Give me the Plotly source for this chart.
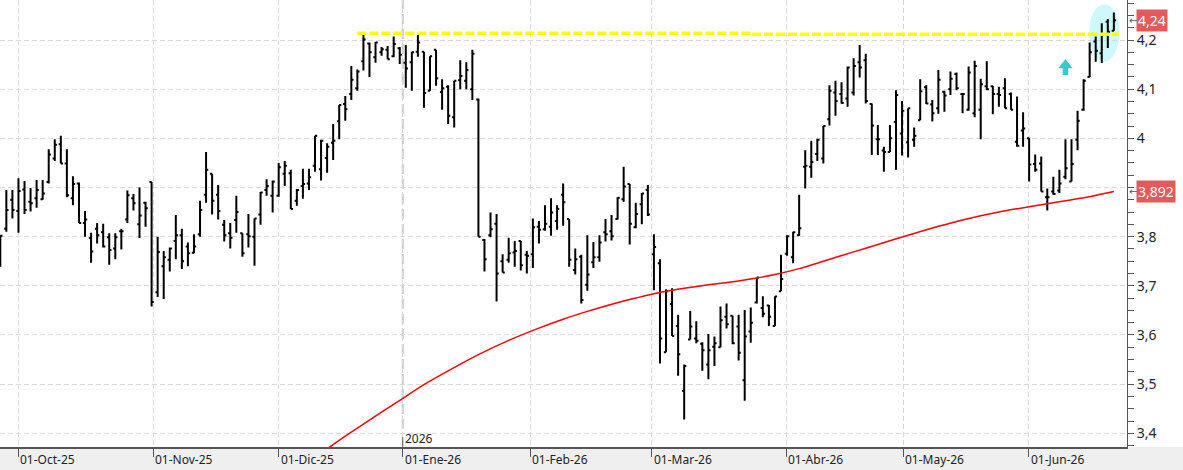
import plotly.graph_objects as go

# ---------------- data ----------------
bar_idx = list(range(185))

opens = [3.759, 3.816, 3.875, 3.852, 3.896, 3.871, 3.878, 3.876, 3.911, 3.959,
         3.988, 3.949, 3.878, 3.908, 3.828, 3.797, 3.816, 3.809, 3.799, 3.776,
         3.811, 3.835, 3.878, 3.825, 3.869, 3.911, 3.687, 3.740, 3.753, 3.791,
         3.803, 3.780, 3.767, 3.805, 3.885, 3.928, 3.885, 3.824, 3.807, 3.834,
         3.807, 3.805, 3.800, 3.845, 3.895, 3.883, 3.883, 3.928, 3.929, 3.873,
         3.903, 3.908, 3.944, 3.937, 3.960, 3.991, 4.035, 4.070, 4.090, 4.102,
         4.157, 4.193, 4.165, 4.175, 4.180, 4.167, 4.183, 4.154, 4.155, 4.176,
         4.176, 4.097, 4.180, 4.094, 4.105, 4.043, 4.118, 4.117, 4.100, 4.079,
         3.793, 3.803, 3.826, 3.750, 3.753, 3.768, 3.791, 3.763, 3.764, 3.820,
         3.815, 3.820, 3.832, 3.885, 3.836, 3.732, 3.759, 3.702, 3.748, 3.758,
         3.809, 3.811, 3.836, 3.876, 3.907, 3.819, 3.866, 3.895, 3.764, 3.746,
         3.565, 3.663, 3.618, 3.486, 3.591, 3.593, 3.582, 3.540, 3.576, 3.575,
         3.637, 3.639, 3.617, 3.508, 3.607, 3.666, 3.655, 3.660, 3.618, 3.689,
         3.765, 3.758, 3.803, 3.942, 3.942, 3.968, 3.959, 4.039, 4.093, 4.090,
         4.081, 4.093, 4.155, 4.159, 4.070, 3.998, 3.975, 3.972, 4.033, 4.010,
         3.992, 3.997, 4.037, 4.104, 4.069, 4.061, 4.095, 4.100, 4.131, 4.090,
         4.058, 4.051, 4.058, 4.106, 4.106, 4.090, 4.102, 4.090, 3.993, 4.016,
         4.000, 3.948, 3.949, 3.880, 3.892, 3.894, 3.922, 3.912, 3.997, 4.058,
         4.125, 4.197, 4.173, 4.237, 4.219]

highs = [3.803, 3.895, 3.895, 3.919, 3.913, 3.899, 3.915, 3.915, 3.978, 3.998,
         4.005, 3.978, 3.923, 3.910, 3.852, 3.808, 3.828, 3.826, 3.807, 3.807,
         3.816, 3.894, 3.887, 3.900, 3.871, 3.911, 3.800, 3.771, 3.778, 3.844,
         3.816, 3.788, 3.805, 3.873, 3.972, 3.928, 3.905, 3.834, 3.828, 3.883,
         3.807, 3.846, 3.837, 3.891, 3.917, 3.914, 3.950, 3.954, 3.936, 3.897,
         3.938, 3.938, 4.005, 3.997, 3.990, 4.029, 4.068, 4.086, 4.147, 4.140,
         4.210, 4.195, 4.196, 4.186, 4.188, 4.207, 4.186, 4.190, 4.176, 4.210,
         4.176, 4.167, 4.180, 4.120, 4.108, 4.117, 4.159, 4.155, 4.180, 4.081,
         3.795, 3.849, 3.846, 3.764, 3.798, 3.791, 3.791, 3.771, 3.837, 3.832,
         3.864, 3.878, 3.864, 3.908, 3.836, 3.776, 3.763, 3.803, 3.789, 3.803,
         3.836, 3.844, 3.880, 3.942, 3.907, 3.869, 3.889, 3.905, 3.805, 3.754,
         3.693, 3.695, 3.641, 3.540, 3.649, 3.628, 3.585, 3.602, 3.597, 3.658,
         3.664, 3.639, 3.641, 3.651, 3.656, 3.717, 3.679, 3.661, 3.679, 3.763,
         3.803, 3.810, 3.885, 3.976, 3.995, 3.999, 4.025, 4.108, 4.117, 4.114,
         4.146, 4.163, 4.190, 4.172, 4.071, 4.027, 3.983, 4.027, 4.098, 4.076,
         4.061, 4.022, 4.120, 4.108, 4.078, 4.139, 4.097, 4.136, 4.134, 4.090,
         4.146, 4.158, 4.121, 4.157, 4.107, 4.105, 4.122, 4.093, 4.085, 4.053,
         4.001, 3.967, 3.963, 3.898, 3.922, 3.936, 3.998, 3.998, 4.056, 4.120,
         4.195, 4.207, 4.234, 4.243, 4.256]

lows = [3.739, 3.810, 3.837, 3.808, 3.846, 3.851, 3.859, 3.875, 3.908, 3.954,
        3.949, 3.880, 3.864, 3.828, 3.800, 3.747, 3.786, 3.778, 3.743, 3.754,
        3.774, 3.828, 3.853, 3.797, 3.820, 3.658, 3.677, 3.673, 3.729, 3.754,
        3.734, 3.740, 3.766, 3.800, 3.869, 3.845, 3.835, 3.790, 3.776, 3.808,
        3.759, 3.778, 3.741, 3.824, 3.883, 3.849, 3.881, 3.903, 3.856, 3.863,
        3.877, 3.895, 3.932, 3.914, 3.930, 3.956, 3.998, 4.036, 4.078, 4.097,
        4.138, 4.125, 4.154, 4.168, 4.161, 4.165, 4.151, 4.103, 4.097, 4.166,
        4.062, 4.097, 4.107, 4.058, 4.029, 4.022, 4.100, 4.100, 4.078, 3.800,
        3.729, 3.799, 3.668, 3.727, 3.747, 3.739, 3.731, 3.725, 3.736, 3.786,
        3.812, 3.802, 3.814, 3.822, 3.739, 3.723, 3.664, 3.690, 3.736, 3.749,
        3.790, 3.792, 3.835, 3.871, 3.784, 3.817, 3.825, 3.842, 3.691, 3.542,
        3.565, 3.598, 3.517, 3.428, 3.591, 3.583, 3.527, 3.510, 3.537, 3.575,
        3.613, 3.581, 3.548, 3.466, 3.584, 3.664, 3.636, 3.618, 3.618, 3.689,
        3.761, 3.746, 3.802, 3.898, 3.920, 3.954, 3.949, 4.026, 4.046, 4.071,
        4.064, 4.087, 4.124, 4.071, 3.966, 3.966, 3.932, 3.972, 3.936, 3.965,
        3.961, 3.983, 4.037, 4.070, 4.034, 4.050, 4.054, 4.088, 4.098, 4.051,
        4.056, 4.043, 3.998, 4.098, 4.049, 4.064, 4.061, 4.058, 3.983, 3.983,
        3.912, 3.932, 3.892, 3.853, 3.885, 3.889, 3.917, 3.912, 3.976, 4.056,
        4.125, 4.156, 4.153, 4.184, 4.219]

closes = [3.802, 3.854, 3.854, 3.893, 3.854, 3.868, 3.895, 3.888, 3.967, 3.987,
          3.949, 3.884, 3.907, 3.828, 3.835, 3.770, 3.803, 3.780, 3.773, 3.799,
          3.811, 3.884, 3.868, 3.843, 3.858, 3.667, 3.769, 3.758, 3.776, 3.803,
          3.750, 3.766, 3.780, 3.854, 3.936, 3.873, 3.852, 3.803, 3.798, 3.850,
          3.766, 3.801, 3.837, 3.890, 3.903, 3.912, 3.941, 3.944, 3.856, 3.895,
          3.907, 3.921, 4.005, 3.995, 3.983, 3.995, 4.068, 4.059, 4.119, 4.136,
          4.201, 4.175, 4.195, 4.181, 4.161, 4.192, 4.170, 4.142, 4.175, 4.195,
          4.092, 4.167, 4.122, 4.102, 4.046, 4.117, 4.127, 4.139, 4.172, 3.800,
          3.754, 3.815, 3.725, 3.727, 3.766, 3.771, 3.742, 3.761, 3.819, 3.814,
          3.826, 3.849, 3.856, 3.870, 3.753, 3.754, 3.671, 3.723, 3.758, 3.788,
          3.805, 3.801, 3.879, 3.902, 3.826, 3.846, 3.888, 3.845, 3.779, 3.593,
          3.689, 3.598, 3.561, 3.537, 3.617, 3.588, 3.569, 3.569, 3.583, 3.630,
          3.622, 3.583, 3.564, 3.597, 3.625, 3.717, 3.643, 3.637, 3.678, 3.714,
          3.801, 3.809, 3.817, 3.944, 3.952, 3.997, 4.025, 4.097, 4.076, 4.072,
          4.144, 4.147, 4.144, 4.076, 4.026, 3.998, 3.972, 4.000, 4.088, 4.056,
          4.061, 4.005, 4.096, 4.071, 4.051, 4.119, 4.087, 4.121, 4.102, 4.090,
          4.134, 4.147, 4.110, 4.100, 4.090, 4.088, 4.061, 4.058, 3.985, 4.020,
          3.947, 3.936, 3.892, 3.880, 3.887, 3.908, 3.939, 3.948, 4.036, 4.117,
          4.175, 4.178, 4.212, 4.217, 4.240]

# moving average (read at several bars)
ma_idx = [52, 57, 61, 66, 70, 74, 79, 84, 89, 93, 97, 100, 103, 106, 108, 111,
          113, 117, 122, 125, 128, 132, 136, 141, 145, 150, 155, 159, 165, 170,
          174, 179, 184]
ma_val = [3.351, 3.394, 3.427, 3.467, 3.499, 3.527, 3.560, 3.589, 3.614, 3.632,
          3.648, 3.659, 3.669, 3.678, 3.684, 3.691, 3.695, 3.702, 3.710, 3.716,
          3.723, 3.735, 3.750, 3.769, 3.784, 3.803, 3.821, 3.834, 3.850, 3.861,
          3.869, 3.879, 3.892]

month_pos = [2.97, 25.27, 46.0, 66.5, 87.6, 107.6, 129.9, 149.2, 169.95]
month_labels = ["01-Oct-25", "01-Nov-25", "01-Dic-25", "01-Ene-26", "01-Feb-26",
                "01-Mar-26", "01-Abr-26", "01-May-26", "01-Jun-26"]
year_pos = 66.5
year_label = "2026"

y_ticks = [3.4, 3.5, 3.6, 3.7, 3.8, 3.9, 4.0, 4.1, 4.2]
y_labels = ["3,4", "3,5", "3,6", "3,7", "3,8", "", "4", "4,1", "4,2"]

resist_left = 4.2136
resist_right = 4.2118
last_close_label = "4,24"
ma_last_label = "3,892"

FONT = "Noto Sans"

# ---------------- figure ----------------
fig = go.Figure()

fig.add_trace(go.Scatter(x=ma_idx, y=ma_val, mode="lines",
                         line=dict(color="#ff0000", width=1.5, shape="spline",
                                   smoothing=0.6),
                         hoverinfo="skip", showlegend=False))

fig.add_trace(go.Ohlc(x=bar_idx, open=opens, high=highs, low=lows, close=closes,
                      increasing=dict(line=dict(color="#000000", width=2)),
                      decreasing=dict(line=dict(color="#000000", width=2)),
                      tickwidth=0.36, hoverinfo="skip", showlegend=False))

shapes = []
# bottom grey band
shapes.append(dict(type="rect", xref="paper", yref="paper", x0=0, x1=1183 / 1127,
                   y0=-23 / 447, y1=0, fillcolor="#efefef", line=dict(width=0),
                   layer="below"))
# highlight ellipse
shapes.append(dict(type="circle", xref="x", yref="y", x0=179.9, x1=184.9,
                   y0=4.156, y1=4.273, fillcolor="#cdf9fb", line=dict(width=0),
                   layer="below"))
# year separator line
shapes.append(dict(type="line", xref="x", yref="paper", x0=year_pos, x1=year_pos,
                   y0=0.04, y1=1, line=dict(color="#c8c8c8", width=2, dash="10px,5px"),
                   layer="below"))
shapes.append(dict(type="line", xref="x", yref="paper", x0=year_pos, x1=year_pos,
                   y0=0, y1=0.022, line=dict(color="#555555", width=1)))
# resistance line (yellow dashed)
shapes.append(dict(type="line", xref="x", yref="y", x0=59.0, x1=124.2,
                   y0=resist_left, y1=resist_left,
                   line=dict(color="#ffff00", width=3.5, dash="9px,3px")))
shapes.append(dict(type="line", xref="x", yref="y", x0=124.2, x1=184.85,
                   y0=resist_right, y1=resist_right,
                   line=dict(color="#ffff00", width=3.5, dash="9px,3px")))
# up arrow
ax, a_tip, a_base, a_bot, hw, sw = 176.0, 4.1607, 4.1424, 4.1288, 1.19, 0.46
arrow_path = (f"M {ax} {a_tip} L {ax + hw} {a_base} L {ax + sw} {a_base} "
              f"L {ax + sw} {a_bot} L {ax - sw} {a_bot} L {ax - sw} {a_base} "
              f"L {ax - hw} {a_base} Z")
shapes.append(dict(type="path", xref="x", yref="y", path=arrow_path,
                   fillcolor="#33cccc", line=dict(width=0)))

annotations = []
for pos, lab in zip(month_pos, month_labels):
    annotations.append(dict(x=pos, xref="x", y=0, yref="paper", text=lab,
                            showarrow=False, xanchor="left", yanchor="middle",
                            xshift=0, yshift=-12,
                            font=dict(family=FONT, size=12, color="#222222")))
annotations.append(dict(x=year_pos, xref="x", y=0, yref="paper", text=year_label,
                        showarrow=False, xanchor="left", yanchor="middle",
                        xshift=0, yshift=9,
                        font=dict(family=FONT, size=12, color="#222222")))
for val, lab in [(closes[-1], last_close_label), (ma_val[-1], ma_last_label)]:
    annotations.append(dict(x=1, xref="paper", y=val, yref="y", text=lab,
                            showarrow=False, xanchor="left", yanchor="middle",
                            xshift=9, bgcolor="#e35a5a", borderpad=1,
                            font=dict(family=FONT, size=14, color="#ffffff")))
    annotations.append(dict(x=1, xref="paper", y=val, yref="y", text="←",
                            showarrow=False, xanchor="left", yanchor="middle",
                            xshift=0, font=dict(family="DejaVu Sans", size=10,
                                                color="#555555")))

fig.update_layout(
    width=1183, height=470,
    margin=dict(l=0, r=56, t=0, b=23),
    paper_bgcolor="#ffffff", plot_bgcolor="#ffffff",
    separators=", ",
    showlegend=False,
    shapes=shapes, annotations=annotations,
    xaxis=dict(range=[-0.05, 186.17], tickmode="array", tickvals=month_pos,
               showticklabels=False, ticks="outside", ticklen=8, tickwidth=1,
               tickcolor="#555555", showgrid=True, gridcolor="#dadada",
               griddash="5px,3px", gridwidth=1, showline=True,
               linecolor="#555555", linewidth=2, zeroline=False,
               rangeslider=dict(visible=False), fixedrange=True),
    yaxis=dict(side="right", range=[3.3721, 4.2814], tickmode="array",
               tickvals=y_ticks, ticktext=y_labels, ticks="outside", ticklen=6,
               tickwidth=1, tickcolor="#555555", showline=True,
               linecolor="#555555", linewidth=1, showgrid=True,
               gridcolor="#dadada", griddash="5px,3px", gridwidth=1,
               zeroline=False, fixedrange=True,
               tickfont=dict(family=FONT, size=14, color="#222233"),
               minor=dict(tickmode="linear", tick0=3.4, dtick=0.025,
                          ticks="outside", ticklen=6, tickcolor="#555555",
                          showgrid=False)),
)

fig.write_html("out.html")
